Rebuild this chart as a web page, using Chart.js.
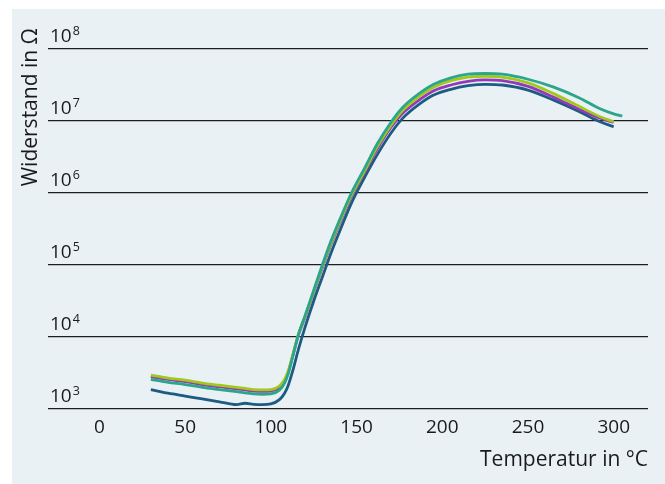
<!DOCTYPE html>
<html><head><meta charset="utf-8">
<script src="https://cdn.jsdelivr.net/npm/chart.js@4"></script>
<style>
html,body{margin:0;padding:0;background:#ffffff;}
canvas{display:block;}
</style></head><body>
<canvas id="c" width="665" height="484"></canvas>
<script>
// Temperature in °C (x values shared by all series)
const temperatures = [30,40,50,60,70,80,85,90,95,100,105,108,110,113,116,120,125,130,135,140,147,155,162,170,177,187,195,205,215,225,235,250,265,280,292,300,305];
// log10 of resistance in Ω
const logTeal   = [3.41,3.37,3.34,3.30,3.27,3.24,3.225,3.21,3.205,3.21,3.26,3.36,3.48,3.75,4.03,4.30,4.65,5.00,5.33,5.62,6.00,6.36,6.68,6.98,7.19,7.39,7.51,7.60,7.65,7.66,7.65,7.58,7.47,7.32,7.17,7.10,7.07];
const logYellow = [3.47,3.43,3.40,3.36,3.33,3.30,3.285,3.27,3.265,3.27,3.32,3.41,3.52,3.77,4.03,4.29,4.63,4.98,5.30,5.59,5.97,6.32,6.64,6.94,7.15,7.35,7.47,7.56,7.61,7.62,7.61,7.53,7.38,7.20,7.06,6.99,null];
const logPurple = [3.45,3.41,3.38,3.34,3.31,3.28,3.265,3.25,3.245,3.25,3.30,3.39,3.50,3.76,4.02,4.28,4.62,4.96,5.28,5.57,5.95,6.30,6.61,6.91,7.11,7.30,7.42,7.50,7.55,7.57,7.56,7.48,7.33,7.16,7.04,6.98,null];
const logBlue   = [3.27,3.22,3.18,3.14,3.10,3.06,3.08,3.065,3.06,3.07,3.13,3.22,3.32,3.55,3.82,4.14,4.50,4.83,5.16,5.46,5.86,6.23,6.53,6.83,7.04,7.24,7.36,7.44,7.49,7.51,7.50,7.43,7.29,7.13,6.99,6.92,null];
const seriesColors = ['#2ba68b','#a2c81c','#9339bb','#1d5b82'];
// tick labels
const xTickValues = [0,50,100,150,200,250,300];
const yExponents = [3,4,5,6,7,8];
const xTitle = 'Temperatur in °C';
const yTitle = 'Widerstand in Ω';

const FONT = '"Open Sans", "Noto Sans", sans-serif';
const TEXT = '#1a1a1a';

function toPoints(logs){
  return temperatures.map((t,i)=> logs[i]==null ? null : {x:t, y:Math.pow(10, logs[i])}).filter(p=>p);
}
const allSeries = [logTeal, logYellow, logPurple, logBlue];
const datasets = allSeries.map((s,i)=>({
  data: toPoints(s),
  borderColor: seriesColors[i],
  borderWidth: 2.8,
  pointRadius: 0,
  fill: false,
  cubicInterpolationMode: 'monotone',
  order: i,
  clip: false
}));

const decor = {
  id:'decor',
  beforeDraw(chart){
    const ctx = chart.ctx;
    ctx.save();
    ctx.fillStyle = '#e9f1f5';
    ctx.fillRect(12, 9, 653, 475);
    ctx.restore();
  },
  afterDraw(chart){
    const ctx = chart.ctx;
    const ys = chart.scales.y;
    const left = chart.chartArea.left + 2;
    ctx.save();
    ctx.fillStyle = TEXT;
    ctx.textAlign = 'left';
    ctx.textBaseline = 'alphabetic';
    yExponents.forEach(e=>{
      const y = ys.getPixelForValue(Math.pow(10,e));
      ctx.font = '19px ' + FONT;
      ctx.fillText('10', left, y - 7);
      const w = ctx.measureText('10').width;
      ctx.font = '12.5px ' + FONT;
      ctx.fillText(String(e), left + w + 1, y - 14);
    });
    ctx.translate(31, 28);
    ctx.rotate(-Math.PI/2);
    ctx.font = '21px ' + FONT;
    ctx.textAlign = 'right';
    ctx.textBaseline = 'middle';
    ctx.fillText(yTitle, 0, 0);
    ctx.restore();
  }
};

new Chart(document.getElementById('c'), {
  type: 'line',
  data: { datasets },
  plugins: [decor],
  options: {
    responsive: false,
    animation: false,
    layout: { padding: { top: 49, right: 17, left: 0, bottom: 0 } },
    plugins: { legend: { display: false }, tooltip: { enabled: false } },
    scales: {
      x: {
        type: 'linear', min: -30, max: 320,
        afterBuildTicks(s){ s.ticks = xTickValues.map(v=>({value:v})); },
        afterFit(s){ s.height = 75; },
        grid: { display: false, drawTicks: false },
        border: { display: false },
        ticks: { font: { size: 19, family: FONT }, color: TEXT, padding: 7, maxRotation: 0 },
        title: { display: true, text: xTitle, align: 'end', color: TEXT,
                 font: { size: 21, family: FONT }, padding: { top: 0, bottom: 11 } }
      },
      y: {
        type: 'logarithmic', min: 1000, max: 1e8,
        afterBuildTicks(s){ s.ticks = yExponents.map(e=>({value:Math.pow(10,e)})); },
        afterFit(s){ s.width = 48; },
        grid: { color: '#1e1e1e', lineWidth: 1.3, drawTicks: false },
        border: { display: false },
        ticks: { display: false }
      }
    }
  }
});
</script>
</body></html>
